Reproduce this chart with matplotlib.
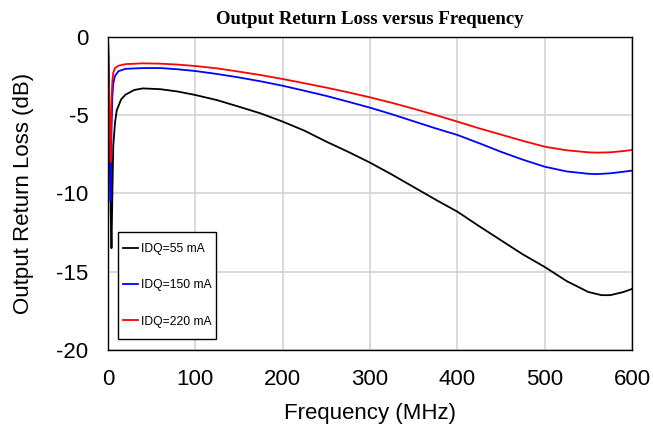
import numpy as np
import matplotlib
matplotlib.use("Agg")
import matplotlib.pyplot as plt
from matplotlib.path import Path

# ============ 数据 ============
freq_55 = [0, 1, 2, 3, 4, 5, 6, 8, 10, 15, 20, 30, 40, 60, 80, 100, 125, 150,
           175, 200, 225, 250, 275, 300, 325, 350, 375, 400, 425, 450, 475,
           500, 525, 550, 565, 575, 590, 600]
rl_55 = [0, -3, -7, -11, -13.5, -10, -7, -5.5, -4.7, -4.0, -3.7, -3.4, -3.3,
         -3.35, -3.5, -3.72, -4.05, -4.47, -4.9, -5.42, -6.0, -6.7, -7.35,
         -8.04, -8.8, -9.6, -10.4, -11.17, -12.1, -13.0, -13.9, -14.7, -15.6,
         -16.3, -16.5, -16.5, -16.3, -16.1]

freq_150 = [0, 1, 2, 3, 4, 5, 6, 8, 12, 20, 40, 60, 80, 100, 125, 150, 175,
            200, 225, 250, 275, 300, 325, 350, 375, 400, 425, 450, 475, 500,
            525, 550, 560, 575, 590, 600]
rl_150 = [0, -3, -7, -10.5, -6, -3.8, -3.0, -2.5, -2.2, -2.05, -2.0, -2.0,
          -2.08, -2.19, -2.38, -2.6, -2.85, -3.13, -3.45, -3.78, -4.15, -4.53,
          -4.95, -5.4, -5.85, -6.27, -6.8, -7.35, -7.85, -8.3, -8.6, -8.75,
          -8.77, -8.72, -8.62, -8.55]

freq_220 = [0, 1, 2, 3, 4, 5, 6, 8, 12, 20, 40, 60, 80, 100, 125, 150, 175,
            200, 225, 250, 275, 300, 325, 350, 375, 400, 425, 450, 475, 500,
            525, 550, 560, 575, 590, 600]
rl_220 = [0, -3, -6, -8, -4, -2.8, -2.3, -2.0, -1.85, -1.75, -1.7, -1.72,
          -1.78, -1.87, -2.02, -2.23, -2.45, -2.7, -2.97, -3.25, -3.55, -3.87,
          -4.22, -4.6, -5.0, -5.42, -5.85, -6.25, -6.65, -7.02, -7.25, -7.38,
          -7.4, -7.38, -7.3, -7.23]

x_ticks = [0, 100, 200, 300, 400, 500, 600]
y_ticks = [0, -5, -10, -15, -20]

plt.rcParams["font.family"] = ["Liberation Sans", "DejaVu Sans"]


def narrow_frame(x0, y0, width, height, mutation_size):
    """图例边框：左右收窄，上下保持原有留白"""
    dx = 0.57 * mutation_size
    x0, x1 = x0 + dx, x0 + width - dx
    y1 = y0 + height
    return Path([(x0, y0), (x1, y0), (x1, y1), (x0, y1), (x0, y0)],
                closed=True)


fig = plt.figure(figsize=(6.53, 4.25), dpi=100)
ax = fig.add_axes([0.1654, 0.1765, 0.8026, 0.7371])

ax.plot(freq_55, rl_55, color="black", linewidth=1.3, label="IDQ=55 mA")
ax.plot(freq_150, rl_150, color="#0000ff", linewidth=1.3, label="IDQ=150 mA")
ax.plot(freq_220, rl_220, color="#ff0000", linewidth=1.3, label="IDQ=220 mA")

ax.set_xlim(0, 600)
ax.set_ylim(-20, 0)
ax.set_xticks(x_ticks)
ax.set_yticks(y_ticks)
ax.set_yticklabels([str(v) for v in y_ticks])
ax.tick_params(length=0, labelsize=16)
ax.tick_params(axis="x", pad=14)
ax.tick_params(axis="y", pad=14)
ax.grid(True, color="#d3d3d3", linewidth=1.2)
ax.set_axisbelow(True)
for sp in ax.spines.values():
    sp.set_color("black")
    sp.set_linewidth(1.0)

ax.set_xlabel("Frequency (MHz)", fontsize=16, labelpad=9)
ax.set_ylabel("Output Return Loss (dB)", fontsize=16, labelpad=16)
fig.text(0.566, 0.954, "Output Return Loss versus Frequency",
         ha="center", va="center", fontsize=13.5, fontweight="bold",
         family=["Liberation Serif", "DejaVu Serif"])

leg = ax.legend(loc="upper left", bbox_to_anchor=(0.0065, 0.3776),
                borderaxespad=0, fontsize=8.75, handlelength=1.28,
                handletextpad=0.2, labelspacing=2.0, borderpad=0.94,
                fancybox=False, framealpha=1, edgecolor="black")
leg.get_frame().set_boxstyle(narrow_frame)
leg.get_frame().set_linewidth(1.0)

fig.savefig("out.png", dpi=100, facecolor="white")
